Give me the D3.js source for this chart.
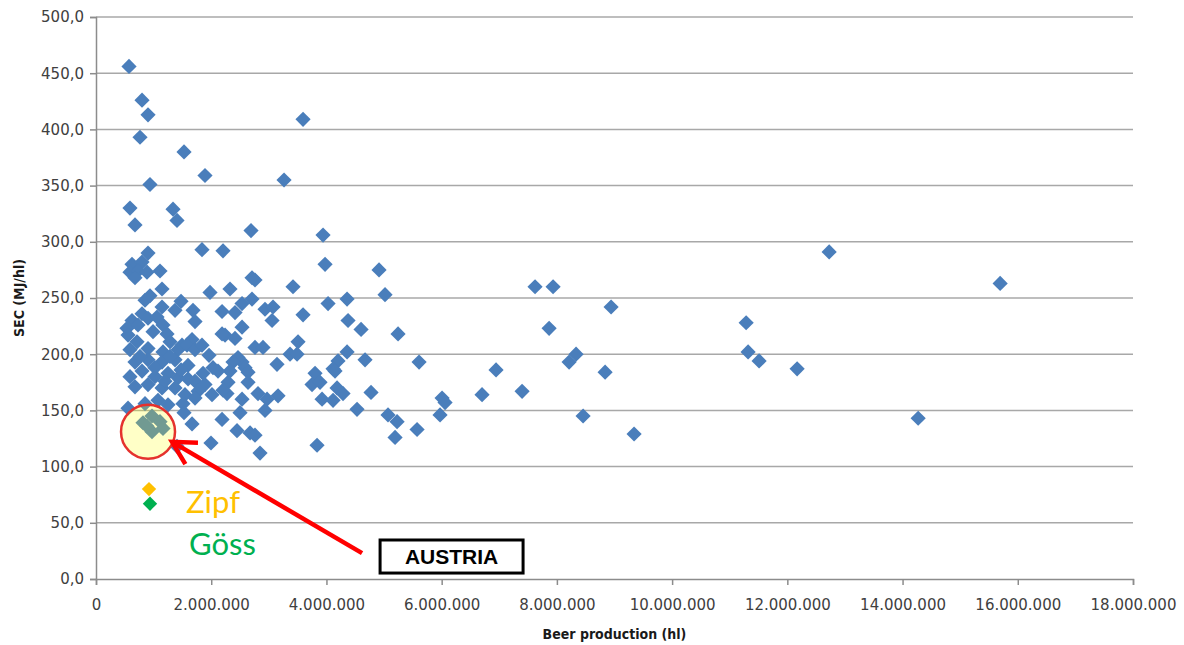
<!DOCTYPE html>
<html>
<head>
<meta charset="utf-8">
<script src="https://cdn.jsdelivr.net/npm/d3@7"></script>
<style>
  body { margin: 0; background: #fff; }
  svg { display: block; }
</style>
</head>
<body>
<svg id="chart" width="1184" height="645"></svg>
<script>
// breweries: [beer production in thousand hl, SEC in MJ/hl]
const breweries = [
  [573,456], [799,426], [903,413], [764,393], [1528,380], [1892,359], [3594,409], [3264,355],
  [937,351], [590,330], [677,315], [1337,329], [1406,319], [2691,310], [3941,306],
  [903,290], [1840,293], [2205,292], [625,280], [799,282], [590,273], [729,274], [885,273],
  [677,268], [1111,274], [1979,255], [1146,258], [937,252], [851,248], [1476,247], [1146,242],
  [1372,239], [1684,239], [1719,229], [799,236], [625,230], [538,223], [729,226], [903,232],
  [1059,233], [1163,226], [1233,218], [556,217], [712,211], [990,220], [1285,211], [1493,208],
  [1667,213], [2240,217], [590,204], [903,205], [1163,202], [1424,204], [1580,208], [3976,280],
  [2760,266], [2708,268], [2326,258], [3420,260], [2708,249], [2535,245], [4028,245], [4358,249],
  [2188,238], [2413,237], [2934,240], [3073,242], [3056,230], [3594,235], [4375,230], [2188,218],
  [2413,214], [2535,224], [2760,206], [2899,206], [3507,211], [3368,200], [3490,200], [4358,202],
  [4201,194], [4115,187], [2465,197], [2535,193], [2587,188], [2378,193], [2326,185], [2639,184],
  [2118,185], [3142,191], [2292,175], [2639,175], [3802,183], [3750,173], [3889,175], [4149,185],
  [4184,170], [4288,165], [2274,165], [2535,160], [2812,165], [2969,160], [3160,163], [3924,160],
  [4115,159], [2934,150], [2500,148], [2188,142], [2448,132], [2674,130], [2760,128], [3837,119],
  [2847,112], [1667,138], [1996,121], [816,139], [972,145], [1111,140], [972,131], [1163,134],
  [885,136], [1719,204], [677,193], [903,195], [1146,193], [1372,195], [1597,190], [2031,188],
  [590,180], [799,185], [1024,180], [1250,183], [1424,179], [1719,176], [1892,173], [677,171],
  [903,173], [1146,170], [1372,170], [1545,164], [1771,167], [2014,164], [556,152], [851,156],
  [1076,159], [1250,155], [1510,156], [1719,161], [2205,168], [1406,118], [1528,148],
  [1285,198], [1024,188], [1476,186], [764,198], [1198,176], [1598,178], [1840,208], [1962,199],
  [1858,183],
  [7621,260], [7934,260], [5017,253], [8941,242], [4601,222], [5243,218], [7865,223], [4670,195],
  [5608,193], [6944,186], [8333,200], [8212,193], [8837,184], [4774,166], [6007,161], [6059,157],
  [6701,164], [7396,167], [4531,151], [5069,146], [5226,140], [5972,146], [8455,145], [5191,126],
  [5573,133], [9340,129], [4913,275],
  [12726,291], [15694,263], [11285,228], [11319,202], [11510,194], [12170,187], [14271,143]
];

// the two Austrian breweries, same units
const zipf = [920, 80];
const goess = [937, 67];
const austriaCenter = [903, 131];

const xTicks = d3.range(0, 18000001, 2000000);
const yTicks = d3.range(0, 501, 50);

const W = 1184, H = 645;
const margin = { top: 17, right: 51, bottom: 66, left: 96 };

const x = d3.scaleLinear().domain([0, 18000000]).range([margin.left, W - margin.right]);
const y = d3.scaleLinear().domain([0, 500]).range([H - margin.bottom, margin.top]);
const xk = v => x(v * 1000);  // thousand hl -> px

const locale = d3.formatLocale({ decimal: ",", thousands: ".", grouping: [3], currency: ["", ""] });
const fmtX = locale.format(",d");
const fmtY = locale.format(".1f");

const svg = d3.select('#chart');

// horizontal gridlines
svg.append('g')
  .selectAll('line')
  .data(yTicks.filter(d => d > 0))
  .join('line')
  .attr('x1', x(0)).attr('x2', x(18000000))
  .attr('y1', d => y(d)).attr('y2', d => y(d))
  .attr('stroke', '#a8a8a8')
  .attr('stroke-width', 1.5);

// axes
const yAxis = svg.append('g')
  .attr('transform', `translate(${x(0)},0)`)
  .call(d3.axisLeft(y).tickValues(yTicks).tickFormat(fmtY).tickSize(6).tickPadding(6));

const xAxis = svg.append('g')
  .attr('transform', `translate(0,${y(0)})`)
  .call(d3.axisBottom(x).tickValues(xTicks).tickFormat(fmtX).tickSize(6).tickPadding(14));

[xAxis, yAxis].forEach(g => {
  g.select('.domain').attr('stroke', '#8c8c8c').attr('stroke-width', 1.5);
  g.selectAll('.tick line').attr('stroke', '#8c8c8c').attr('stroke-width', 1.5);
  g.selectAll('.tick text')
    .attr('fill', '#404040')
    .style('font-family', '"DejaVu Sans", sans-serif')
    .style('font-size', '15px');
});

// axis titles
svg.append('text')
  .attr('x', (x(0) + x(18000000)) / 2)
  .attr('y', 639)
  .attr('text-anchor', 'middle')
  .style('font-family', '"DejaVu Sans Condensed", "DejaVu Sans", sans-serif')
  .style('font-weight', 'bold')
  .style('font-size', '14px')
  .attr('fill', '#1a1a1a')
  .text('Beer production (hl)');

svg.append('text')
  .attr('transform', `translate(24,${(y(0) + y(500)) / 2}) rotate(-90)`)
  .attr('text-anchor', 'middle')
  .style('font-family', '"DejaVu Sans Condensed", "DejaVu Sans", sans-serif')
  .style('font-weight', 'bold')
  .style('font-size', '14px')
  .attr('fill', '#1a1a1a')
  .text('SEC (MJ/hl)');

// diamond markers
const diamond = r => `M0,${-r}L${r},0L0,${r}L${-r},0Z`;

svg.append('g')
  .selectAll('path')
  .data(breweries)
  .join('path')
  .attr('d', diamond(7.6))
  .attr('transform', d => `translate(${xk(d[0])},${y(d[1])})`)
  .attr('fill', '#4a7ebb');

svg.append('path')
  .attr('d', diamond(7.2))
  .attr('transform', `translate(${xk(zipf[0])},${y(zipf[1])})`)
  .attr('fill', '#ffc000');

svg.append('path')
  .attr('d', diamond(7.2))
  .attr('transform', `translate(${xk(goess[0])},${y(goess[1])})`)
  .attr('fill', '#00b050');

// Austria highlight circle
svg.append('circle')
  .attr('cx', xk(austriaCenter[0]))
  .attr('cy', y(austriaCenter[1]))
  .attr('r', 27)
  .attr('fill', 'yellow')
  .attr('fill-opacity', 0.22)
  .attr('stroke', '#e5322d')
  .attr('stroke-width', 2.5);

// arrow from label box to circle
const tip = [xk(1319), y(122)];
const tail = [xk(4618), y(23)];
const ang = Math.atan2(tail[1] - tip[1], tail[0] - tip[0]);
const armLen = 26, spread = 0.5;
const arm = s => [tip[0] + armLen * Math.cos(ang + s), tip[1] + armLen * Math.sin(ang + s)];

svg.append('line')
  .attr('x1', tail[0]).attr('y1', tail[1])
  .attr('x2', tip[0] + 3 * Math.cos(ang)).attr('y2', tip[1] + 3 * Math.sin(ang))
  .attr('stroke', '#ff0000')
  .attr('stroke-width', 4.5);

svg.append('path')
  .attr('d', `M${arm(spread)}L${tip}L${arm(-spread)}`)
  .attr('fill', 'none')
  .attr('stroke', '#ff0000')
  .attr('stroke-width', 4.5)
  .attr('stroke-linejoin', 'miter');

// AUSTRIA label box
const bx0 = xk(4931), bx1 = xk(7413), by0 = y(34.7), by1 = y(5.3);
svg.append('rect')
  .attr('x', bx0).attr('y', by0)
  .attr('width', bx1 - bx0).attr('height', by1 - by0)
  .attr('fill', '#fff')
  .attr('stroke', '#000')
  .attr('stroke-width', 3);

svg.append('text')
  .attr('x', (bx0 + bx1) / 2)
  .attr('y', (by0 + by1) / 2)
  .attr('dy', '0.36em')
  .attr('text-anchor', 'middle')
  .style('font-family', '"Liberation Sans", Arial, sans-serif')
  .style('font-weight', 'bold')
  .style('font-size', '21px')
  .text('AUSTRIA');

// brewery names
svg.append('text')
  .attr('x', xk(1562)).attr('y', y(58.7))
  .style('font-family', 'Lato, "Open Sans", sans-serif')
  .style('font-size', '31px')
  .attr('fill', '#ffc000')
  .text('Zipf');

svg.append('text')
  .attr('x', xk(1615)).attr('y', y(21.4))
  .style('font-family', 'Lato, "Open Sans", sans-serif')
  .style('font-size', '31px')
  .attr('fill', '#00b050')
  .text('Göss');
</script>
</body>
</html>
